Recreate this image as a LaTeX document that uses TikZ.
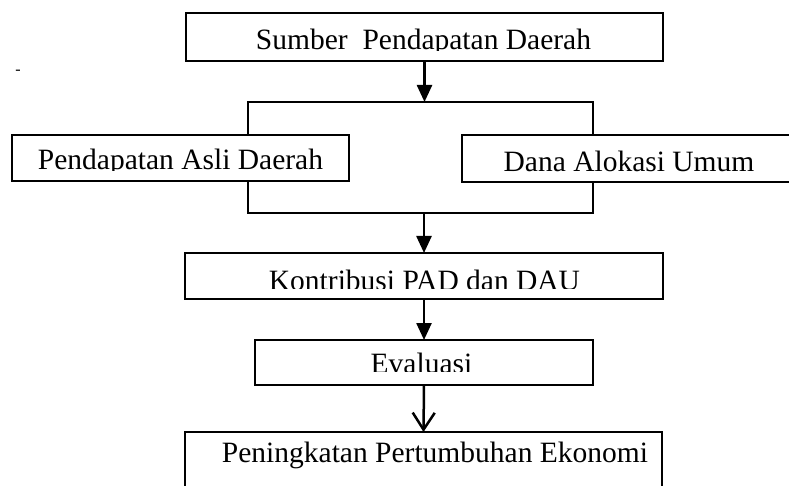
\documentclass[tikz,border=0pt]{standalone}
\usepackage{fontspec}
\setmainfont{Liberation Serif}
\usetikzlibrary{arrows.meta}
\tikzset{
  box/.style={draw=black, fill=white, line width=2pt, inner sep=0pt, outer sep=0pt},
  frame/.style={draw=black, line width=2pt, inner sep=0pt, outer sep=0pt},
  lbl/.style={anchor=base, inner sep=0pt, font=\fontsize{29.5}{31}\selectfont},
  solidarrow/.style={line width=2.5pt, -{Triangle[width=15pt,length=17pt]}},
  openarrow/.style={line width=2.5pt, -{Straight Barb[width=22pt,length=17pt,line width=2.5pt]}}
}
\begin{document}
\begin{tikzpicture}[x=1pt,y=-1pt]
\useasboundingbox (0,0) rectangle (789,486);
\clip (0,0) rectangle (789,486);
\fill[white] (0,0) rectangle (789,486);
% top box
\node[box, minimum width=477pt, minimum height=48pt] (sumber) at (424.5,37) {};
\begin{scope}
\clip (186,13) rectangle (663,51);
\node[lbl] (sumbertxt) at (423.5,50) {Sumber\ \ Pendapatan Daerah};
\end{scope}
% stray dash
\node[inner sep=0pt, font=\fontsize{16}{16}\selectfont] (dash) at (18,72) {-};
% open frame
\node[frame, minimum width=345pt, minimum height=111pt] (big) at (420.5,157.5) {};
% PAD box
\node[box, minimum width=337pt, minimum height=46pt] (pad) at (180.5,158) {};
\begin{scope}
\clip (12,135) rectangle (349,171);
\node[lbl] (padtxt) at (180.5,170) {Pendapatan Asli Daerah};
\end{scope}
% DAU box
\node[box, minimum width=338pt, minimum height=47pt] (dau) at (631,158.5) {};
\node[lbl] (dautxt) at (629,172) {Dana Alokasi Umum};
% Kontribusi
\node[box, minimum width=478pt, minimum height=46pt] (kontrib) at (424,276) {};
\begin{scope}
\clip (185,253) rectangle (663,288);
\node[lbl] (kontribtxt) at (424.5,290) {Kontribusi PAD dan DAU};
\end{scope}
% Evaluasi
\node[box, minimum width=338pt, minimum height=45pt] (eval) at (424,362.5) {};
\begin{scope}
\clip (255,340) rectangle (593,371);
\node[lbl] (evaltxt) at (421.5,373) {Evaluasi};
\end{scope}
% bottom
\node[box, minimum width=477pt, minimum height=68pt] (hasil) at (423.5,466) {};
\node[lbl] (hasiltxt) at (435,462) {Peningkatan Pertumbuhan Ekonomi};
% arrows
\draw[solidarrow] (sumber.south) -- (sumber.south |- big.north);
\draw[solidarrow] (kontrib.north |- big.south) -- (kontrib.north);
\draw[solidarrow] (kontrib.south) -- (eval.north);
\draw[openarrow] (eval.south) -- (hasil.north);
\end{tikzpicture}
\end{document}
